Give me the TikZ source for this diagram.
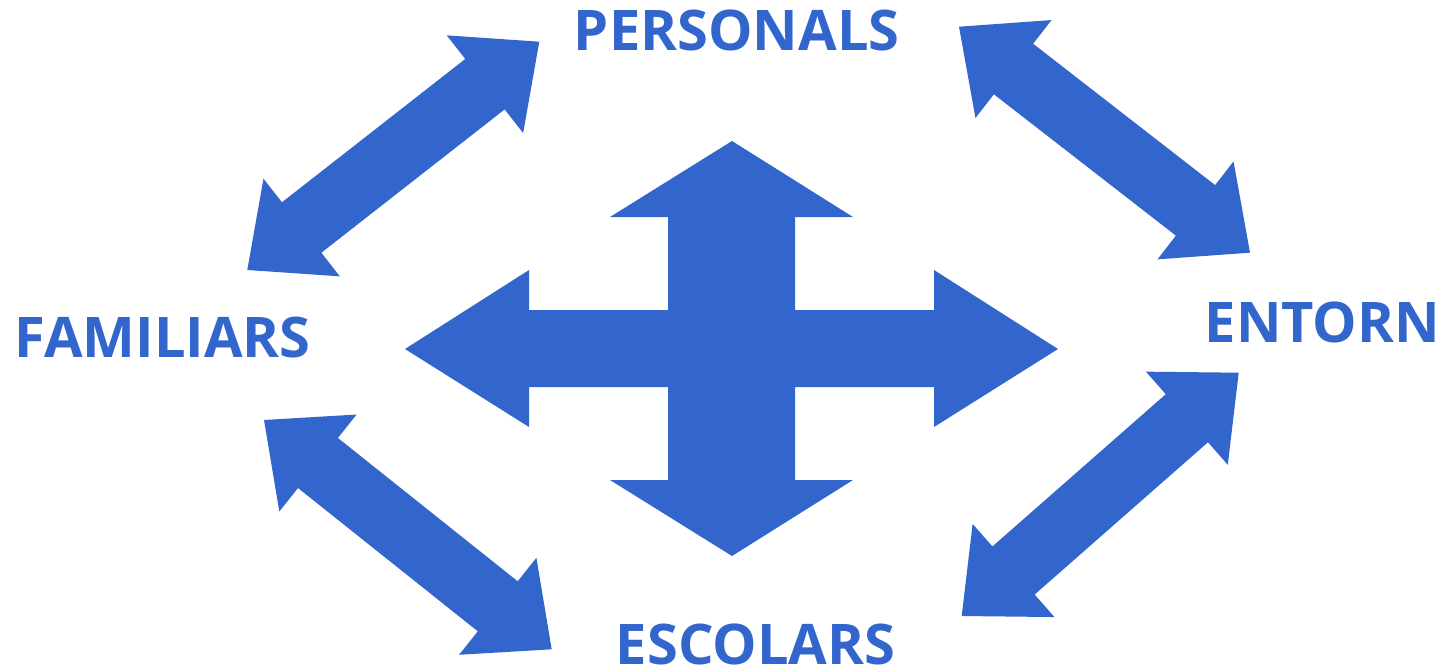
\documentclass[tikz,border=0pt]{standalone}
\usepackage{fontspec}
\setmainfont{Open Sans}
\usepackage{xcolor}
\usepackage{tikz}
\usetikzlibrary{calc}
\definecolor{arrowblue}{HTML}{3366CC}

% double block arrow between two tips
\newcommand{\dblarrow}[2]{%
  \fill[arrowfill] (#1)
    -- ($(#1)!69pt!(#2)!62pt!90:(#2)$)
    -- ($(#1)!69pt!(#2)!32pt!90:(#2)$)
    -- ($(#2)!69pt!(#1)!32pt!-90:(#1)$)
    -- ($(#2)!69pt!(#1)!62pt!-90:(#1)$)
    -- (#2)
    -- ($(#2)!69pt!(#1)!62pt!90:(#1)$)
    -- ($(#2)!69pt!(#1)!32pt!90:(#1)$)
    -- ($(#1)!69pt!(#2)!32pt!-90:(#2)$)
    -- ($(#1)!69pt!(#2)!62pt!-90:(#2)$)
    -- cycle;}

\begin{document}
\begin{tikzpicture}[x=1pt, y=-1pt, arrowfill/.style={fill=arrowblue},
    every node/.style={text=arrowblue, font=\bfseries\fontsize{56}{58}\selectfont, inner sep=0pt, anchor=base}]
    \useasboundingbox (0,0) rectangle (1447,669);

    % labels
    \node (personals) at (736.7,51) {PERSONALS};
    \node (familiars) at (162.5,357.7) {FAMILIARS};
    \node (entorn) at (1322.3,342.7) {ENTORN};
    \node (escolars) at (755.5,664) {ESCOLARS};

    % ends of the side arrows
    \coordinate (tlA) at (247.3,270);
    \coordinate (tlB) at (539.3,41.7);
    \coordinate (trA) at (959,26.7);
    \coordinate (trB) at (1250,252.7);
    \coordinate (blA) at (264,420);
    \coordinate (blB) at (551.7,649.3);
    \coordinate (brA) at (961.7,616);
    \coordinate (brB) at (1238.7,372.7);

    \dblarrow{tlA}{tlB}
    \dblarrow{trA}{trB}
    \dblarrow{blA}{blB}
    \dblarrow{brA}{brB}

    % four-way arrow in the middle
    \fill[arrowfill] (732,141) -- (853,217) -- (795,217) -- (795,310) -- (934,310) -- (934,270)
        -- (1058,349) -- (934,427) -- (934,387) -- (795,387) -- (795,480) -- (853,480)
        -- (732,556) -- (610,480) -- (668,480) -- (668,387) -- (529,387) -- (529,427)
        -- (405,349) -- (529,270) -- (529,310) -- (668,310) -- (668,217) -- (610,217) -- cycle;
\end{tikzpicture}
\end{document}
